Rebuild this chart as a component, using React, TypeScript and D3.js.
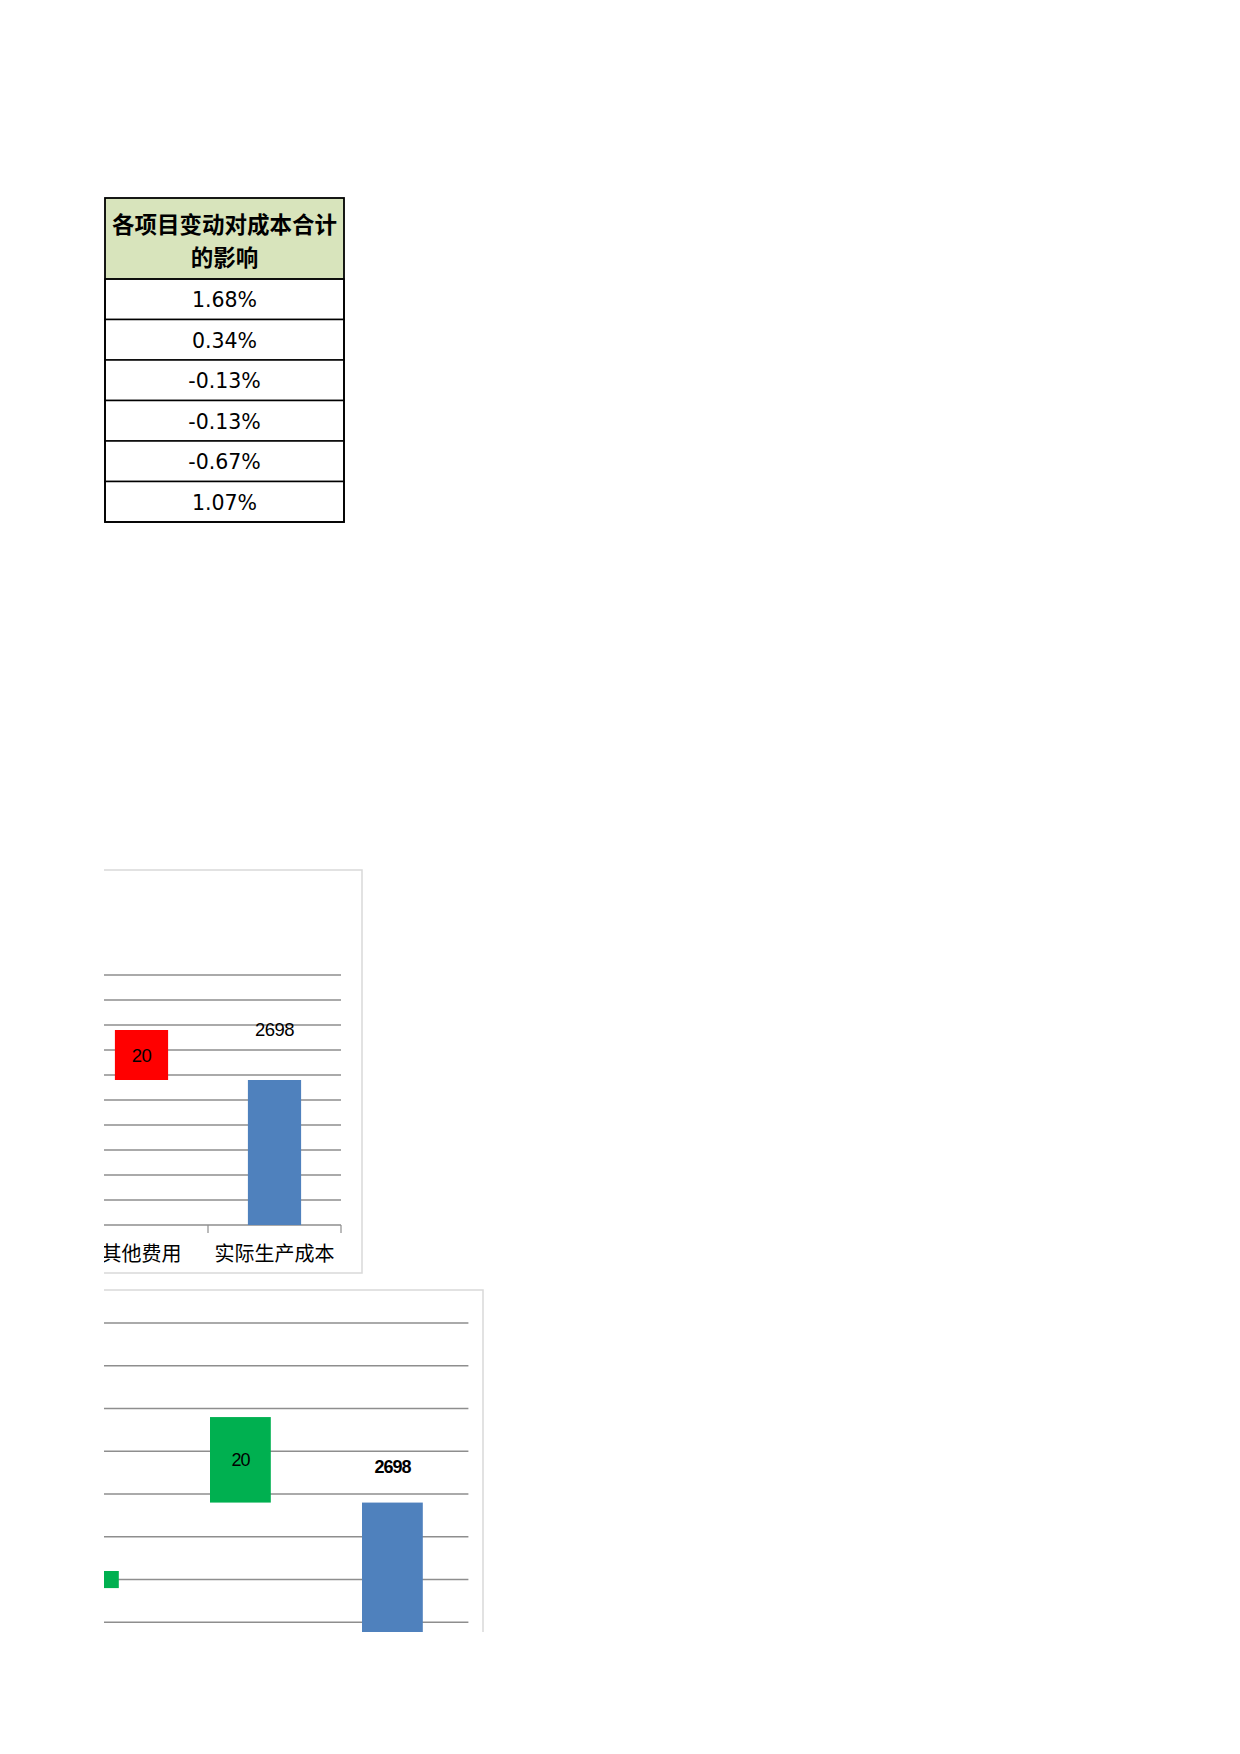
import React from "react";
import * as d3 from "d3";

// ---------- data ----------
const tableHeaderLines = ["各项目变动对成本合计", "的影响"];
const tableValues = ["1.68%", "0.34%", "-0.13%", "-0.13%", "-0.67%", "1.07%"];

const chart1Categories = ["其他费用", "实际生产成本"];
const chart1Bases = [2698, 2640];
const chart1Values = [20, 2698];
const chart1Colors = ["#FF0000", "#4F81BD"];
const chart1Labels = ["20", "2698"];
const chart1Ticks = [2640, 2650, 2660, 2670, 2680, 2690, 2700, 2710, 2720, 2730, 2740];

const chart2Categories = ["制造费用", "其他费用", "实际生产成本"];
const chart2Bases = [2678, 2698, 2600];
const chart2Values = [4, 20, 2698];
const chart2Colors = ["#00B050", "#00B050", "#4F81BD"];
const chart2Labels = ["", "20", "2698"];
const chart2Ticks = [2660, 2670, 2680, 2690, 2700, 2710, 2720, 2730, 2740];

const GRID = "#8e8e8e";
const FRAME = "#d9d9d9";
const CJK = "'Noto Sans CJK SC', 'Noto Sans', sans-serif";
const SANS = "'Liberation Sans', Arial, sans-serif";

function Table() {
  const x0 = 105, x1 = 344, top = 198, headH = 81, rowH = 40.5;
  const cx = (x0 + x1) / 2;
  return (
    <g>
      <rect x={x0} y={top} width={x1 - x0} height={headH} fill="#D8E4BC" />
      {tableHeaderLines.map((t, i) => (
        <text key={t} x={cx} y={top + 25 + i * 33} textAnchor="middle" dominantBaseline="central"
          fontFamily={CJK} fontWeight={700} fontSize={22.5} fill="#000">{t}</text>
      ))}
      {tableValues.map((v, i) => {
        const y = top + headH + i * rowH;
        return (
          <g key={i}>
            <rect x={x0} y={y} width={x1 - x0} height={rowH} fill="#fff" stroke="#000" strokeWidth={1.5} />
            <text x={cx} y={y + rowH / 2 + 1} textAnchor="middle" dominantBaseline="central"
              fontFamily="'DejaVu Sans', sans-serif" fontSize={20.5} fill="#000">{v}</text>
          </g>
        );
      })}
      <rect x={x0} y={top} width={x1 - x0} height={headH + rowH * tableValues.length} fill="none" stroke="#000" strokeWidth={1.8} />
      <line x1={x0} x2={x1} y1={top + headH} y2={top + headH} stroke="#000" strokeWidth={1.5} />
    </g>
  );
}

function Chart1() {
  const clipX = 104, right = 362, top = 870, bottom = 1273;
  const y = d3.scaleLinear().domain([2640, 2740]).range([1225, 975]);
  const x = d3.scaleBand().domain(chart1Categories).range([75, 341]).paddingInner(0.6).paddingOuter(0.3);
  const step = x.step();
  const boundaries = [0, 1, 2].map((i) => 75 + i * step);
  return (
    <g>
      <defs>
        <clipPath id="c1clip"><rect x={clipX} y={top - 2} width={right - clipX + 4} height={bottom - top + 4} /></clipPath>
      </defs>
      <g clipPath="url(#c1clip)">
        <rect x={0} y={top} width={right} height={bottom - top} fill="#fff" stroke={FRAME} strokeWidth={1.5} />
        {chart1Ticks.map((t) => (
          <line key={t} x1={75} x2={341} y1={y(t)} y2={y(t)} stroke={GRID} strokeWidth={1.4} />
        ))}
        {boundaries.map((b, i) => (
          <line key={i} x1={b} x2={b} y1={y(2640)} y2={y(2640) + 8} stroke={GRID} strokeWidth={1.2} />
        ))}
        {chart1Categories.map((c, i) => {
          const yTop = i === 0 ? y(chart1Bases[i] + chart1Values[i]) : y(chart1Values[i]);
          const yBot = y(chart1Bases[i]);
          const bx = x(c)!;
          return (
            <g key={c}>
              <rect x={bx} y={yTop} width={x.bandwidth()} height={yBot - yTop} fill={chart1Colors[i]} />
              <text x={bx + x.bandwidth() / 2} y={i === 0 ? (yTop + yBot) / 2 : yTop - 51}
                textAnchor="middle" dominantBaseline="central" fontFamily={SANS} fontSize={18.5} fill="#000"
                letterSpacing={-0.6}>{chart1Labels[i]}</text>
              <text x={bx + x.bandwidth() / 2} y={1252} textAnchor="middle" dominantBaseline="central"
                fontFamily={CJK} fontSize={20} fill="#000">{c}</text>
            </g>
          );
        })}
      </g>
    </g>
  );
}

function Chart2() {
  const clipX = 104, right = 483, top = 1290, bottom = 1632;
  const y = d3.scaleLinear().domain([2670, 2740]).range([1622.3, 1323]);
  const x = d3.scaleBand().domain(chart2Categories).range([12.4, 468.4]).paddingInner(0.6).paddingOuter(0.3);
  return (
    <g>
      <defs>
        <clipPath id="c2clip"><rect x={clipX} y={top - 2} width={right - clipX + 4} height={bottom - top + 2} /></clipPath>
      </defs>
      <g clipPath="url(#c2clip)">
        <rect x={0} y={top} width={right} height={600} fill="#fff" stroke={FRAME} strokeWidth={1.5} />
        {chart2Ticks.map((t) => (
          <line key={t} x1={12.4} x2={468.4} y1={y(t)} y2={y(t)} stroke={GRID} strokeWidth={1.4} />
        ))}
        {chart2Categories.map((c, i) => {
          const isTotal = i === chart2Categories.length - 1;
          const yTop = isTotal ? y(chart2Values[i]) : y(chart2Bases[i] + chart2Values[i]);
          const yBot = y(chart2Bases[i]);
          const bx = x(c)!;
          return (
            <g key={c}>
              <rect x={bx} y={yTop} width={x.bandwidth()} height={yBot - yTop} fill={chart2Colors[i]} />
              {chart2Labels[i] && (
                <text x={bx + x.bandwidth() / 2} y={isTotal ? yTop - 36 : (yTop + yBot) / 2}
                  textAnchor="middle" dominantBaseline="central" fontFamily={SANS} fontSize={18}
                  fontWeight={isTotal ? 700 : 400} letterSpacing={-1} fill="#000">{chart2Labels[i]}</text>
              )}
            </g>
          );
        })}
      </g>
    </g>
  );
}

export default function App() {
  return (
    <div style={{ position: "absolute", left: 0, top: 0 }}>
      <svg width={1240} height={1754} viewBox="0 0 1240 1754" style={{ display: "block", background: "#fff" }}>
        <rect x={0} y={0} width={1240} height={1754} fill="#fff" />
        <Table />
        <Chart1 />
        <Chart2 />
      </svg>
    </div>
  );
}
